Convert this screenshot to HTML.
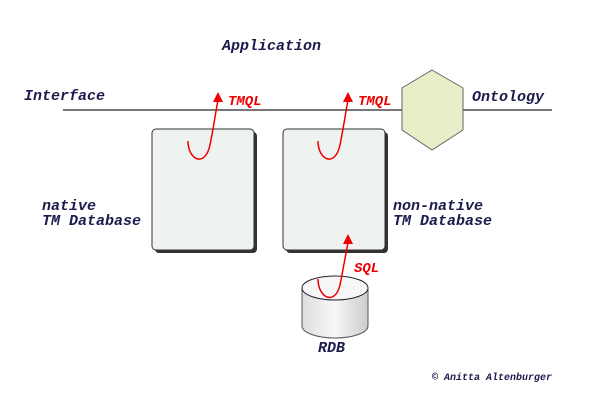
<!DOCTYPE html>
<html><head><style>
body{margin:0;background:#fff}
svg text{font-family:"Liberation Mono",monospace;font-weight:bold;font-style:italic}
</style></head><body>
<svg width="600" height="400" viewBox="0 0 600 400" xmlns="http://www.w3.org/2000/svg">
<defs>
<linearGradient id="cg" x1="0" x2="1"><stop offset="0" stop-color="#ddd"/><stop offset="0.5" stop-color="#f8f8f8"/><stop offset="1" stop-color="#ccc"/></linearGradient>
</defs>
<g font-size="15" fill="#1c1c4c">
<text x="222" y="50">Application</text>
<text x="24" y="100">Interface</text>
<text x="472" y="101">Ontology</text>
<text x="42" y="210">native</text>
<text x="42" y="225">TM Database</text>
<text x="393" y="210">non-native</text>
<text x="393" y="225">TM Database</text>
<text x="318" y="352">RDB</text>
</g>
<text x="432" y="380" font-size="10" fill="#1c1c4c">© Anitta Altenburger</text>
<line x1="63" y1="110" x2="552" y2="110" stroke="#777" stroke-width="2"/>
<polygon points="432,70 463,88 463,130 432,150 402,130 402,88" fill="#e6efc8" stroke="#666" stroke-width="1"/>
<rect x="155" y="132" width="102" height="121" rx="4" fill="#333"/>
<rect x="152" y="129" width="102" height="121" rx="4" fill="#eef3f1" stroke="#333"/>
<rect x="286" y="132" width="102" height="121" rx="4" fill="#333"/>
<rect x="283" y="129" width="102" height="121" rx="4" fill="#eef3f1" stroke="#333"/>
<path d="M302,288 V326 A33,12 0 0 0 368,326 V288" fill="url(#cg)" stroke="#555"/>
<ellipse cx="335" cy="288" rx="33" ry="12" fill="#f7f7f7" stroke="#223"/>
<g fill="none" stroke="#e00" stroke-width="1.5">
<path d="M188,141 C188,160 205,168 210,145 C214,125 216,110 218,100"/>
<path d="M318,141 C318,160 335,168 340,145 C344,125 346,110 348,100"/>
<path d="M318,279 C318,298 335,306 340,285 C344,265 346,252 348,243"/>
</g>
<g fill="#e00">
<polygon points="218,92 213,102 223,102"/>
<polygon points="348,92 343,102 353,102"/>
<polygon points="348,234 343,244 353,244"/>
</g>
<g font-size="14" fill="#e00">
<text x="228" y="105">TMQL</text>
<text x="358" y="105">TMQL</text>
<text x="354" y="272">SQL</text>
</g>
</svg>
</body></html>
